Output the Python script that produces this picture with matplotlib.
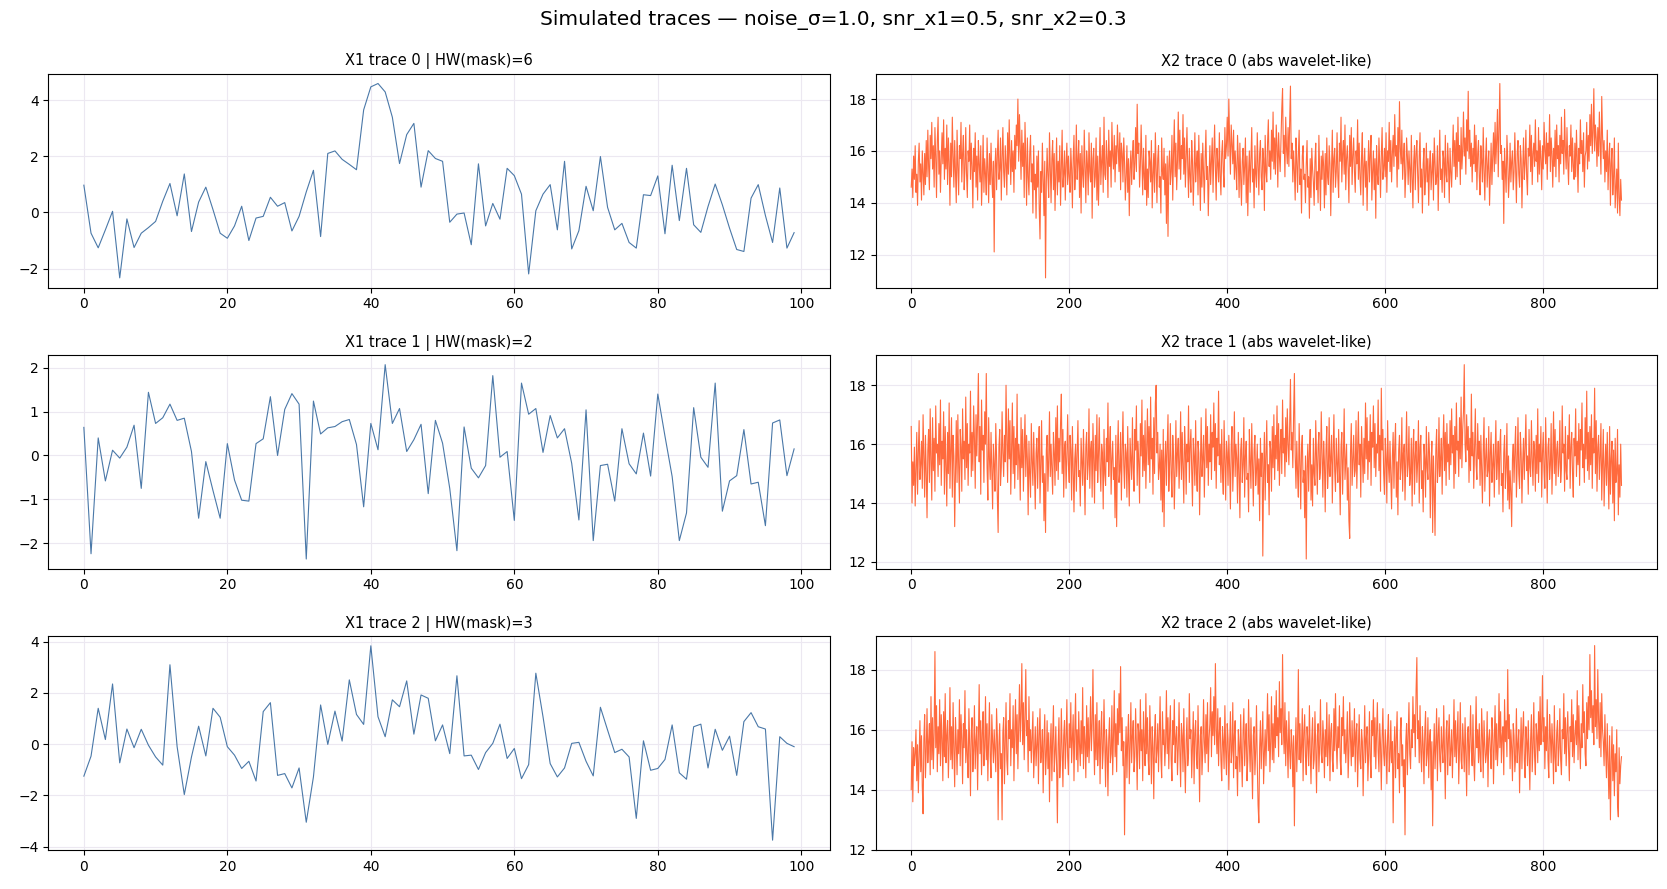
import matplotlib
matplotlib.use("Agg")
import matplotlib.pyplot as plt
import numpy as np

# ---- datos de las trazas ----
titulo = "Simulated traces — noise_σ=1.0, snr_x1=0.5, snr_x2=0.3"
hw_mask = [6, 2, 3]

x1_trace0 = [
    0.97, -0.74, -1.26, -0.62, 0.04, -2.33, -0.23, -1.25, -0.74, -0.54,
    -0.32, 0.40, 1.03, -0.12, 1.37, -0.68, 0.37, 0.90, 0.10, -0.74,
    -0.92, -0.48, 0.22, -1.00, -0.20, -0.14, 0.54, 0.22, 0.35, -0.66,
    -0.14, 0.73, 1.50, -0.86, 2.10, 2.19, 1.89, 1.71, 1.52, 3.65,
    4.47, 4.59, 4.29, 3.39, 1.74, 2.77, 3.17, 0.90, 2.20, 1.92,
    1.82, -0.35, -0.06, -0.02, -1.15, 1.73, -0.48, 0.32, -0.24, 1.57,
    1.31, 0.65, -2.19, 0.06, 0.65, 0.99, -0.62, 1.82, -1.30, -0.65,
    0.93, 0.06, 1.99, 0.18, -0.62, -0.39, -1.07, -1.27, 0.63, 0.60,
    1.30, -0.76, 1.68, -0.29, 1.57, -0.44, -0.71, 0.21, 1.01, 0.27,
    -0.56, -1.32, -1.39, 0.51, 0.99, -0.11, -1.07, 0.87, -1.27, -0.72,
]
x1_trace1 = [
    0.64, -2.24, 0.40, -0.58, 0.12, -0.06, 0.19, 0.69, -0.75, 1.44,
    0.73, 0.86, 1.17, 0.80, 0.85, 0.09, -1.43, -0.14, -0.80, -1.43,
    0.27, -0.56, -1.02, -1.04, 0.27, 0.38, 1.34, 0.00, 1.05, 1.41,
    1.17, -2.36, 1.24, 0.49, 0.63, 0.66, 0.77, 0.82, 0.25, -1.17,
    0.73, 0.13, 2.07, 0.73, 1.07, 0.09, 0.36, 0.71, -0.87, 0.80,
    0.28, -0.75, -2.17, 0.65, -0.29, -0.51, -0.23, 1.82, -0.04, 0.09,
    -1.48, 1.65, 0.94, 1.07, 0.07, 0.91, 0.40, 0.61, -0.18, -1.47,
    1.04, -1.94, -0.23, -0.20, -1.04, 0.61, -0.19, -0.42, 0.51, -0.47,
    1.40, 0.44, -0.48, -1.94, -1.31, 1.09, -0.04, -0.27, 1.65, -1.27,
    -0.58, -0.46, 0.59, -0.65, -0.61, -1.60, 0.74, 0.81, -0.46, 0.15,
]
x1_trace2 = [
    -1.25, -0.47, 1.40, 0.18, 2.35, -0.73, 0.59, -0.14, 0.58, -0.04,
    -0.50, -0.82, 3.10, -0.10, -1.97, -0.50, 0.70, -0.46, 1.40, 1.05,
    -0.10, -0.43, -0.95, -0.67, -1.44, 1.27, 1.62, -1.22, -1.15, -1.71,
    -0.93, -3.05, -1.28, 1.53, -0.01, 1.29, 0.12, 2.51, 1.16, 0.77,
    3.84, 1.07, 0.29, 1.73, 1.46, 2.47, 0.39, 1.92, 1.79, 0.13,
    0.75, -0.37, 2.67, -0.46, -0.43, -0.99, -0.33, 0.03, 0.78, -0.56,
    -0.17, -1.35, -0.80, 2.77, 1.07, -0.76, -1.28, -0.93, 0.03, 0.07,
    -0.67, -1.24, 1.44, 0.55, -0.33, -0.20, -0.50, -2.90, 0.13, -1.02,
    -0.95, -0.60, 0.75, -1.12, -1.37, 0.68, 0.78, -0.93, 0.58, -0.24,
    0.31, -1.22, 0.88, 1.23, 0.68, 0.59, -3.75, 0.29, 0.03, -0.10,
]

x2_trace0 = [
    14.6, 15.3, 14.2, 15.8, 14.9, 16.2, 14.4, 15.1, 13.9, 15.6, 16.3, 14.8, 15.5, 14.1, 16.0, 15.2, 14.3, 15.9, 14.7, 16.4,
    15.0, 16.8, 15.4, 14.5, 16.6, 15.7, 17.1, 15.3, 16.2, 14.6, 16.9, 15.8, 14.2, 16.4, 17.3, 15.1, 16.0, 14.4, 15.7, 16.7,
    15.5, 17.2, 14.9, 16.1, 15.3, 17.0, 14.7, 16.5, 15.6, 13.9, 16.3, 15.0, 17.3, 15.8, 14.6, 16.4, 15.2, 14.0, 16.8, 15.4,
    14.3, 16.2, 15.7, 17.1, 14.8, 15.9, 16.6, 14.5, 15.3, 16.9, 15.1, 14.2, 16.0, 15.6, 17.0, 14.9, 16.3, 15.4, 13.8, 16.1,
    15.2, 16.7, 14.6, 15.8, 14.1, 16.4, 15.5, 14.8, 16.2, 13.9, 15.0, 16.6, 14.4, 15.7, 15.1, 14.3, 16.5, 15.3, 14.0, 15.9,
    14.7, 16.3, 15.0, 14.2, 15.6, 12.1, 15.4, 16.1, 14.5, 15.8, 16.8, 14.9, 15.3, 16.5, 14.1, 15.7, 16.9, 15.2, 14.6, 16.2,
    15.5, 14.3, 16.7, 15.1, 17.2, 15.8, 14.7, 16.4, 15.2, 16.0, 14.4, 16.6, 15.3, 17.0, 16.2, 18.0, 15.6, 17.4, 16.1, 14.9,
    16.8, 15.4, 16.3, 14.2, 17.1, 15.7, 13.9, 16.5, 15.0, 14.3, 15.9, 16.6, 14.8, 15.5, 13.6, 16.2, 14.5, 15.1, 13.4, 15.8,
    14.6, 16.0, 13.8, 12.6, 15.2, 14.4, 16.3, 14.9, 13.5, 15.6, 11.1, 14.8, 16.1, 15.0, 14.2, 16.7, 15.3, 14.0, 15.7, 16.4,
    14.5, 15.9, 13.7, 15.2, 16.5, 14.3, 15.6, 14.8, 16.2, 13.9, 15.4, 16.8, 14.6, 15.1, 16.0, 14.1, 15.5, 16.3, 14.7, 15.8,
    15.0, 14.4, 16.1, 15.3, 13.8, 15.7, 16.6, 14.5, 15.2, 17.0, 14.9, 15.6, 16.4, 14.2, 15.9, 13.6, 16.2, 15.1, 14.6, 16.8,
    15.4, 14.0, 16.0, 15.5, 14.3, 16.7, 15.2, 14.8, 16.3, 13.4, 15.7, 16.1, 14.6, 15.0, 16.5, 14.1, 15.8, 13.9, 15.3, 16.9,
    14.7, 15.6, 16.2, 14.4, 17.3, 15.1, 14.9, 16.4, 15.7, 14.2, 16.8, 15.4, 16.0, 14.6, 17.1, 15.8, 15.3, 16.6, 14.8, 16.2,
    15.5, 17.0, 16.1, 15.2, 16.7, 14.5, 16.3, 15.9, 14.8, 16.5, 15.6, 14.1, 15.0, 16.2, 14.4, 15.7, 13.5, 15.3, 16.0, 14.7,
    15.8, 16.4, 14.9, 15.5, 16.9, 15.2, 17.8, 15.9, 16.3, 14.6, 15.4, 17.0, 15.7, 14.3, 16.1, 15.0, 14.5, 16.6, 13.9, 15.3,
    14.2, 16.0, 15.6, 14.8, 16.4, 13.8, 15.1, 15.9, 14.4, 16.7, 15.3, 14.0, 15.7, 16.2, 14.6, 15.0, 13.6, 16.5, 15.2, 14.9,
    16.1, 14.3, 15.5, 13.2, 15.8, 12.7, 15.4, 16.0, 14.7, 15.2, 16.6, 14.1, 15.9, 17.2, 15.0, 16.3, 14.5, 15.6, 17.5, 15.3,
    16.8, 14.9, 16.2, 15.7, 17.4, 15.1, 16.5, 14.6, 15.8, 16.9, 15.4, 14.2, 16.1, 15.0, 14.4, 16.4, 15.6, 13.9, 15.2, 16.7,
    14.8, 15.5, 16.0, 14.3, 16.6, 15.1, 13.7, 15.9, 14.6, 16.3, 15.2, 14.0, 15.7, 16.8, 14.9, 15.4, 13.5, 15.0, 16.2, 14.7,
    15.6, 16.5, 14.4, 15.8, 17.0, 15.3, 14.1, 16.1, 15.5, 14.8, 16.7, 15.0, 14.3, 15.9, 16.4, 15.2, 14.6, 16.9, 15.7, 16.2,
    17.3, 15.8, 18.0, 16.4, 15.1, 17.0, 16.2, 15.5, 16.8, 14.9, 16.0, 15.3, 14.5, 16.6, 15.7, 14.2, 16.3, 15.0, 13.9, 15.6,
    16.1, 14.7, 15.4, 16.5, 14.0, 15.8, 13.5, 15.2, 16.0, 14.4, 15.6, 16.9, 14.8, 15.3, 13.8, 16.2, 15.1, 14.6, 16.7, 15.5,
    14.3, 15.9, 16.4, 15.0, 14.5, 16.1, 15.7, 13.7, 16.6, 15.2, 14.8, 16.3, 17.2, 15.4, 16.0, 14.9, 16.8, 15.6, 17.5, 15.3,
    16.5, 15.1, 17.0, 16.2, 14.6, 16.7, 15.8, 15.2, 16.4, 17.6, 18.4, 15.9, 16.6, 15.0, 17.3, 16.1, 15.5, 16.9, 15.4, 17.1,
    18.5, 15.7, 16.3, 14.8, 16.0, 15.2, 14.1, 16.5, 15.6, 14.4, 15.9, 16.8, 14.7, 15.3, 13.6, 15.8, 16.2, 14.9, 15.1, 14.0,
    15.5, 16.4, 14.6, 15.0, 13.4, 15.7, 14.2, 16.1, 15.3, 14.8, 13.9, 15.6, 16.3, 14.5, 15.2, 14.0, 16.6, 15.1, 13.7, 15.8,
    14.9, 16.0, 15.4, 13.8, 15.9, 14.3, 16.5, 15.0, 14.7, 16.2, 15.5, 13.5, 15.3, 16.8, 14.4, 15.7, 16.1, 14.6, 15.2, 16.7,
    15.0, 14.2, 16.3, 15.6, 17.3, 14.8, 15.9, 16.4, 15.1, 17.0, 14.5, 15.7, 16.2, 15.3, 14.0, 16.6, 15.4, 16.9, 14.7, 15.8,
    16.5, 15.2, 14.4, 16.0, 15.5, 17.2, 14.9, 16.3, 15.0, 14.3, 15.8, 16.7, 13.9, 15.4, 16.1, 14.6, 15.6, 13.7, 15.3, 16.4,
    14.8, 15.9, 16.6, 14.1, 15.2, 16.0, 14.5, 15.7, 13.4, 16.2, 15.1, 14.7, 16.5, 15.5, 14.2, 15.8, 16.9, 14.9, 15.3, 16.1,
    15.0, 16.7, 14.4, 16.0, 15.6, 17.1, 15.2, 16.4, 14.8, 15.9, 16.6, 15.4, 17.4, 15.8, 16.2, 14.6, 16.9, 15.3, 17.9, 16.1,
    15.5, 16.8, 14.9, 15.7, 16.3, 14.2, 15.1, 16.5, 15.8, 14.7, 16.0, 15.3, 14.4, 16.6, 15.0, 13.8, 15.6, 16.2, 14.5, 15.9,
    16.4, 15.1, 14.0, 15.8, 16.7, 14.6, 15.3, 13.6, 15.5, 16.1, 14.3, 15.0, 16.3, 14.8, 15.7, 13.9, 15.4, 16.0, 14.5, 15.2,
    15.9, 14.1, 16.5, 15.6, 14.7, 15.0, 16.2, 13.7, 15.4, 16.8, 14.9, 15.3, 14.4, 16.0, 15.7, 14.2, 16.6, 15.1, 14.8, 16.3,
    15.5, 14.0, 16.1, 15.2, 14.6, 15.8, 17.0, 15.4, 16.4, 14.9, 16.7, 15.0, 17.3, 15.6, 16.2, 14.7, 16.9, 15.3, 16.0, 17.5,
    15.8, 16.5, 15.1, 17.2, 16.0, 18.3, 15.7, 16.8, 15.4, 16.3, 14.8, 16.1, 15.5, 17.0, 15.2, 16.6, 14.5, 15.9, 16.4, 15.0,
    14.3, 16.2, 15.6, 14.8, 16.9, 15.3, 14.1, 15.7, 16.5, 14.6, 15.4, 16.0, 13.9, 15.1, 16.3, 14.7, 15.8, 16.7, 15.2, 17.1,
    15.5, 16.4, 17.6, 15.0, 16.8, 18.6, 15.9, 16.2, 14.9, 15.6, 13.2, 16.1, 15.3, 14.4, 16.6, 15.7, 14.2, 15.0, 16.3, 14.8,
    15.6, 16.0, 14.5, 15.2, 16.7, 15.4, 14.0, 15.9, 16.4, 15.1, 14.6, 16.2, 15.7, 13.8, 15.3, 16.5, 14.9, 15.5, 16.8, 15.0,
    14.3, 16.1, 15.8, 17.0, 15.2, 16.6, 14.7, 15.9, 16.3, 15.4, 17.2, 15.6, 16.0, 14.8, 16.9, 15.1, 16.4, 15.7, 14.5, 16.2,
    15.3, 17.1, 16.0, 15.5, 16.7, 14.9, 16.3, 15.8, 17.4, 15.2, 16.5, 15.9, 14.6, 16.1, 15.4, 16.8, 15.0, 17.0, 15.7, 16.2,
    14.8, 16.6, 15.5, 17.3, 15.9, 16.4, 15.1, 17.6, 16.0, 15.3, 16.9, 15.6, 14.7, 16.2, 15.8, 17.0, 15.2, 16.5, 15.4, 14.9,
    16.3, 15.0, 16.8, 15.7, 14.4, 16.1, 15.5, 17.2, 15.9, 16.4, 15.2, 16.7, 14.6, 15.8, 16.0, 17.1, 15.3, 16.6, 15.6, 17.4,
    16.2, 17.8, 15.9, 16.7, 18.4, 16.0, 17.0, 16.5, 15.4, 16.9, 15.8, 17.5, 16.3, 15.1, 18.1, 16.6, 15.7, 16.4, 14.8, 16.0,
    15.2, 16.8, 14.5, 15.7, 16.3, 13.9, 15.5, 16.1, 14.3, 15.0, 16.5, 13.8, 14.6, 15.3, 13.6, 16.3, 14.2, 13.5, 14.9, 14.1,
]
x2_trace1 = [
    16.6, 14.0, 15.4, 14.6, 15.9, 13.9, 15.2, 16.4, 14.3, 15.7, 16.8, 14.8, 15.3, 16.1, 14.5, 17.0, 15.6, 14.2, 16.3, 15.0,
    13.5, 15.8, 16.5, 14.7, 17.2, 15.4, 14.1, 16.9, 15.1, 16.2, 14.4, 17.3, 15.7, 16.0, 14.9, 16.7, 15.3, 17.5, 14.6, 16.1,
    15.5, 17.1, 14.3, 16.6, 15.2, 13.9, 16.4, 15.0, 17.4, 14.5, 15.8, 16.9, 14.2, 16.3, 15.6, 13.2, 15.1, 16.8, 14.7, 17.0,
    15.3, 14.0, 16.5, 15.9, 14.4, 17.2, 15.5, 16.1, 14.8, 17.6, 15.2, 16.7, 14.6, 16.0, 15.7, 17.8, 14.9, 16.4, 15.1, 17.3,
    16.2, 14.5, 17.0, 15.6, 16.8, 18.4, 15.4, 16.6, 14.3, 17.5, 15.8, 16.3, 14.7, 17.1, 16.0, 18.4, 15.2, 14.1, 16.9, 15.5,
    14.8, 16.4, 15.1, 13.8, 16.0, 15.3, 14.4, 16.7, 15.6, 14.2, 13.0, 15.9, 16.5, 14.6, 15.2, 17.1, 15.7, 14.9, 16.3, 15.4,
    18.0, 16.1, 14.7, 17.2, 15.5, 16.8, 14.3, 15.9, 17.4, 15.0, 16.6, 14.5, 16.2, 15.3, 17.7, 14.8, 16.0, 15.6, 14.1, 16.9,
    15.2, 16.5, 14.4, 15.8, 17.0, 14.9, 16.3, 15.5, 13.6, 16.1, 15.0, 14.2, 16.7, 15.4, 14.6, 16.4, 15.1, 13.8, 15.7, 16.2,
    14.5, 15.9, 16.6, 14.0, 15.3, 16.8, 14.7, 15.6, 13.4, 15.0, 13.0, 15.8, 16.3, 14.4, 15.5, 17.1, 14.9, 16.0, 15.2, 14.3,
    16.4, 15.7, 14.6, 16.9, 15.1, 17.3, 14.8, 16.2, 15.4, 16.7, 17.7, 15.0, 16.5, 14.2, 15.9, 16.1, 14.5, 15.6, 17.0, 15.3,
    14.7, 16.3, 15.8, 14.1, 16.6, 15.2, 13.7, 15.5, 16.0, 14.4, 15.7, 16.8, 14.9, 15.1, 13.9, 16.2, 15.4, 14.6, 16.5, 15.0,
    13.6, 15.9, 16.4, 14.8, 15.3, 17.2, 14.5, 15.8, 16.1, 14.2, 16.7, 15.5, 14.0, 16.3, 15.1, 17.0, 14.7, 15.6, 16.9, 15.2,
    14.4, 16.0, 15.7, 13.8, 16.5, 15.0, 14.6, 16.2, 15.4, 17.4, 14.9, 15.9, 16.6, 14.3, 15.5, 16.1, 14.8, 15.2, 13.5, 16.3,
    13.2, 15.6, 16.8, 14.7, 15.1, 16.4, 14.1, 15.8, 17.1, 15.3, 14.5, 16.0, 15.7, 14.2, 16.6, 15.0, 13.9, 16.2, 15.5, 14.8,
    16.9, 15.2, 14.4, 16.5, 15.8, 17.3, 14.6, 16.1, 15.4, 14.0, 16.7, 15.6, 17.5, 14.9, 16.3, 15.1, 16.8, 14.5, 15.9, 17.2,
    15.3, 16.6, 14.7, 17.6, 15.5, 16.2, 14.3, 16.9, 15.0, 17.4, 18.0, 15.7, 16.4, 14.8, 15.2, 16.0, 14.1, 15.8, 13.7, 16.5,
    13.2, 15.4, 16.1, 14.6, 15.9, 17.0, 14.4, 15.3, 16.7, 15.0, 14.2, 16.3, 15.6, 13.8, 15.1, 16.8, 14.9, 15.7, 16.2, 14.5,
    15.5, 17.1, 14.8, 16.4, 15.2, 14.0, 16.6, 15.8, 14.3, 16.0, 15.4, 17.3, 14.7, 15.9, 16.5, 15.1, 13.9, 16.2, 15.6, 14.6,
    16.8, 15.0, 14.4, 16.1, 15.7, 13.6, 15.3, 16.9, 14.9, 15.5, 16.3, 14.2, 15.8, 17.2, 15.2, 16.6, 14.6, 16.0, 15.4, 17.0,
    14.8, 16.4, 15.9, 17.4, 15.1, 16.7, 14.5, 16.2, 15.6, 17.8, 15.3, 16.0, 14.7, 16.5, 15.0, 14.3, 16.8, 15.5, 14.1, 16.1,
    15.7, 14.6, 16.3, 15.2, 13.8, 15.9, 16.6, 14.4, 15.4, 17.1, 14.9, 16.0, 15.5, 14.0, 16.4, 15.1, 13.5, 15.8, 16.2, 14.7,
    15.3, 16.9, 14.2, 15.6, 16.1, 14.8, 15.0, 13.7, 16.5, 15.4, 14.5, 16.7, 15.2, 13.9, 15.8, 16.3, 14.6, 15.1, 16.0, 14.3,
    15.5, 13.4, 16.2, 14.9, 15.7, 12.2, 15.0, 16.4, 14.1, 15.6, 16.8, 14.7, 15.3, 13.6, 16.1, 15.8, 14.4, 16.6, 15.2, 17.0,
    14.8, 16.3, 15.5, 17.3, 15.1, 16.7, 14.6, 15.9, 16.5, 15.0, 17.5, 15.7, 16.2, 14.9, 16.9, 15.4, 17.2, 16.0, 15.3, 16.6,
    18.2, 15.8, 16.4, 15.2, 17.0, 18.4, 15.6, 14.5, 16.1, 15.0, 14.2, 16.7, 15.4, 13.8, 15.9, 16.3, 14.7, 15.1, 13.5, 15.6,
    12.1, 15.2, 16.0, 14.4, 15.7, 16.5, 14.1, 15.3, 13.9, 16.2, 15.0, 14.6, 16.8, 15.5, 14.3, 15.9, 16.4, 14.8, 15.1, 17.1,
    15.6, 14.2, 16.1, 15.4, 13.7, 15.8, 16.6, 14.5, 15.2, 16.9, 14.9, 15.5, 16.3, 14.0, 15.7, 17.0, 15.1, 14.4, 16.2, 15.3,
    14.7, 16.5, 15.0, 13.6, 15.9, 16.4, 14.3, 15.6, 17.2, 14.8, 15.4, 16.0, 14.1, 15.2, 13.4, 12.8, 15.7, 16.7, 14.6, 15.5,
    16.3, 14.9, 15.1, 16.8, 14.5, 15.8, 17.1, 15.3, 16.0, 14.2, 16.6, 15.6, 14.7, 16.2, 15.0, 17.4, 15.5, 16.9, 14.8, 16.1,
    15.4, 17.0, 14.6, 16.4, 15.9, 17.3, 15.2, 16.7, 14.9, 16.0, 15.7, 17.5, 15.1, 16.3, 14.4, 17.9, 15.8, 16.5, 15.0, 14.3,
    16.2, 15.5, 14.0, 16.8, 15.3, 14.7, 16.1, 15.0, 13.8, 15.6, 16.4, 14.5, 15.9, 16.7, 14.2, 15.4, 13.6, 15.8, 16.3, 14.8,
    15.2, 16.9, 14.4, 15.7, 16.0, 14.1, 15.5, 17.1, 14.9, 15.3, 16.6, 14.6, 15.0, 16.2, 13.9, 15.8, 16.5, 14.3, 15.6, 16.1,
    14.7, 15.4, 16.8, 14.0, 15.9, 16.3, 14.5, 15.1, 13.7, 16.0, 15.5, 14.2, 16.6, 15.2, 14.8, 16.4, 15.7, 13.5, 15.3, 16.1,
    13.0, 15.6, 14.4, 12.9, 15.8, 16.5, 14.7, 15.2, 16.9, 14.9, 15.5, 16.2, 14.3, 15.9, 17.0, 15.1, 16.4, 14.6, 16.7, 15.4,
    16.0, 14.8, 16.8, 15.3, 17.2, 15.7, 16.3, 14.5, 16.6, 15.0, 17.4, 15.8, 16.1, 14.9, 16.9, 15.5, 17.6, 15.2, 16.5, 17.1,
    18.7, 16.0, 15.4, 17.0, 15.8, 16.6, 14.7, 16.2, 15.1, 17.7, 15.6, 16.4, 14.5, 15.9, 17.2, 15.3, 14.8, 16.7, 15.5, 16.1,
    14.6, 16.3, 15.2, 14.0, 15.8, 16.9, 14.4, 15.5, 16.2, 14.9, 15.1, 16.6, 13.9, 15.7, 16.4, 14.7, 15.3, 16.0, 14.2, 15.6,
    16.8, 14.8, 15.4, 16.1, 14.3, 15.9, 16.5, 14.6, 15.0, 13.7, 15.7, 16.3, 14.5, 15.2, 16.7, 14.1, 15.6, 13.8, 15.1, 14.4,
    13.2, 15.5, 16.0, 14.7, 15.8, 16.6, 14.2, 15.3, 16.9, 15.0, 14.5, 16.4, 15.7, 14.0, 15.4, 16.2, 14.8, 15.9, 17.0, 15.1,
    15.6, 14.3, 16.5, 15.2, 14.9, 16.8, 15.5, 14.6, 16.1, 15.8, 14.4, 16.3, 15.0, 17.2, 14.7, 16.0, 15.4, 16.6, 14.2, 15.7,
    16.4, 15.1, 14.5, 16.9, 15.6, 14.0, 15.9, 16.2, 14.8, 15.3, 16.7, 14.3, 15.5, 17.1, 15.0, 16.5, 14.6, 15.8, 16.1, 14.9,
    15.4, 16.8, 14.7, 15.2, 17.3, 15.7, 16.0, 14.4, 16.6, 15.1, 14.8, 16.3, 15.5, 17.0, 14.5, 15.9, 16.4, 15.0, 14.2, 16.2,
    15.6, 17.2, 14.9, 16.1, 15.3, 16.7, 14.6, 16.5, 15.8, 17.4, 15.2, 16.0, 14.7, 16.9, 15.5, 17.8, 15.1, 16.4, 14.8, 16.6,
    15.3, 17.0, 14.5, 16.2, 15.7, 17.9, 15.0, 16.8, 14.4, 15.9, 16.3, 14.8, 15.6, 16.7, 14.1, 15.4, 16.5, 13.9, 15.2, 16.0,
    14.6, 16.4, 15.1, 13.8, 16.6, 14.3, 15.5, 16.1, 14.0, 15.8, 13.4, 16.2, 14.7, 15.0, 16.5, 13.6, 15.3, 14.2, 16.0, 14.6,
]
x2_trace2 = [
    14.0, 15.6, 13.6, 15.4, 14.8, 15.2, 16.0, 14.3, 15.5, 13.9, 15.1, 16.3, 14.6, 15.8, 14.1, 13.2, 15.7, 16.5, 14.4, 15.3,
    16.7, 14.9, 15.6, 16.2, 14.5, 17.1, 15.0, 16.4, 14.7, 15.9, 18.6, 15.4, 16.8, 14.6, 16.1, 15.2, 17.0, 14.8, 16.5, 15.7,
    14.3, 16.6, 15.1, 17.2, 14.9, 15.8, 16.3, 14.4, 15.5, 17.4, 15.0, 16.1, 14.7, 16.9, 15.3, 14.1, 16.4, 15.6, 14.5, 16.0,
    15.2, 17.0, 14.8, 16.5, 15.7, 14.2, 16.2, 15.4, 17.3, 14.9, 16.0, 15.1, 14.4, 16.7, 15.5, 13.8, 15.9, 16.4, 14.6, 15.3,
    16.8, 14.7, 15.6, 16.1, 14.0, 15.8, 17.5, 15.2, 16.3, 14.5, 15.9, 16.6, 14.8, 15.4, 17.1, 15.0, 16.2, 14.3, 15.7, 16.9,
    15.1, 14.4, 16.5, 15.6, 14.9, 16.0, 15.3, 14.6, 16.7, 15.8, 13.0, 15.5, 16.2, 14.7, 15.2, 13.0, 15.9, 16.4, 14.2, 15.6,
    16.9, 15.0, 14.5, 16.3, 15.7, 17.2, 14.8, 16.0, 15.4, 16.8, 14.3, 15.9, 17.0, 15.2, 16.5, 14.7, 16.2, 17.5, 15.6, 16.6,
    18.2, 15.5, 16.9, 15.0, 16.4, 18.0, 15.8, 16.3, 14.6, 17.1, 15.3, 16.0, 14.9, 15.7, 16.6, 14.4, 15.2, 16.1, 14.8, 15.5,
    16.4, 14.2, 15.8, 16.7, 14.9, 15.3, 16.0, 13.9, 15.6, 16.5, 14.5, 15.1, 16.3, 14.7, 15.9, 13.6, 15.4, 16.2, 14.3, 15.7,
    16.8, 14.6, 15.2, 16.1, 14.8, 12.9, 15.5, 16.4, 14.4, 15.0, 16.7, 15.3, 14.1, 15.8, 16.3, 14.7, 15.6, 17.0, 15.1, 14.5,
    16.2, 15.4, 16.9, 14.9, 15.7, 16.5, 14.3, 15.9, 17.2, 15.0, 16.0, 14.6, 16.6, 15.5, 14.8, 16.3, 15.2, 17.4, 14.7, 16.1,
    15.6, 14.4, 16.8, 15.1, 16.4, 14.9, 15.8, 17.1, 15.3, 16.2, 18.0, 15.7, 14.5, 16.5, 15.0, 16.9, 14.8, 15.5, 16.3, 14.2,
    15.9, 16.6, 14.7, 15.3, 17.0, 15.6, 14.1, 16.0, 15.4, 13.8, 15.7, 16.4, 14.9, 15.2, 16.8, 14.5, 15.8, 17.3, 15.1, 16.2,
    14.6, 16.7, 15.5, 17.2, 15.9, 18.1, 15.3, 16.4, 14.8, 15.6, 12.5, 15.0, 16.1, 14.4, 15.7, 16.5, 14.2, 15.4, 16.9, 14.9,
    15.8, 16.3, 14.6, 15.1, 16.7, 15.5, 14.0, 16.2, 15.9, 14.7, 17.0, 15.3, 16.0, 14.3, 16.6, 15.6, 14.8, 17.2, 15.2, 16.4,
    15.0, 14.5, 16.8, 15.7, 14.2, 16.1, 15.4, 13.7, 15.9, 16.5, 14.9, 15.3, 16.2, 14.6, 15.8, 17.1, 15.1, 14.4, 16.6, 15.5,
    16.0, 14.8, 15.6, 17.3, 15.2, 16.4, 14.7, 15.9, 16.8, 15.0, 14.3, 16.3, 15.5, 17.0, 14.9, 15.7, 16.1, 14.5, 15.4, 16.9,
    15.3, 14.1, 16.2, 15.8, 14.6, 16.7, 15.1, 13.9, 15.6, 16.4, 14.8, 15.2, 17.2, 15.7, 16.0, 14.4, 15.5, 16.6, 14.2, 15.9,
    16.3, 15.0, 14.7, 16.8, 15.4, 13.6, 15.8, 16.1, 14.5, 15.3, 17.0, 15.6, 14.9, 16.5, 15.2, 16.9, 14.6, 15.7, 16.2, 17.4,
    15.1, 16.6, 15.8, 17.1, 15.5, 18.2, 16.0, 15.2, 16.7, 14.8, 15.9, 16.4, 15.0, 14.3, 16.1, 15.6, 14.7, 16.8, 15.3, 14.5,
    16.2, 15.7, 14.0, 15.5, 16.6, 14.9, 15.3, 16.9, 14.4, 15.8, 16.3, 14.7, 15.1, 13.8, 16.0, 15.4, 14.6, 16.5, 15.2, 14.1,
    15.9, 16.7, 14.8, 15.6, 16.2, 14.3, 15.0, 17.0, 15.5, 14.6, 16.4, 15.1, 13.7, 15.8, 16.1, 14.5, 15.3, 16.8, 14.9, 13.5,
    12.9, 15.4, 16.3, 14.7, 15.7, 16.6, 14.2, 15.2, 16.0, 14.8, 15.9, 17.2, 15.3, 16.5, 14.6, 15.6, 17.1, 15.0, 16.2, 14.9,
    16.8, 15.4, 17.3, 15.8, 16.4, 15.1, 17.6, 15.9, 16.7, 15.5, 18.5, 16.1, 15.2, 16.9, 14.8, 16.3, 15.6, 14.4, 16.6, 15.3,
    14.7, 16.0, 15.5, 14.1, 15.8, 12.8, 15.2, 16.4, 14.6, 15.7, 18.0, 15.0, 16.2, 14.9, 15.4, 16.7, 14.3, 15.9, 16.5, 15.1,
    14.5, 16.1, 15.6, 14.8, 16.8, 15.3, 14.2, 15.7, 16.4, 14.7, 15.0, 16.6, 15.4, 13.9, 15.8, 16.2, 14.6, 15.5, 17.0, 15.2,
    14.9, 16.3, 15.7, 14.4, 16.0, 15.1, 16.9, 14.8, 15.5, 16.5, 14.3, 15.9, 16.2, 15.0, 14.6, 16.7, 15.3, 17.2, 15.6, 14.7,
    16.1, 15.4, 16.8, 15.0, 14.5, 16.4, 15.8, 17.1, 15.2, 16.0, 14.9, 15.6, 16.6, 14.4, 15.3, 16.9, 15.7, 14.8, 16.3, 15.1,
    15.5, 16.7, 14.6, 15.9, 16.2, 14.1, 15.4, 16.5, 15.0, 14.7, 16.0, 15.6, 13.8, 15.3, 16.8, 14.9, 15.7, 16.1, 14.3, 15.2,
    16.6, 15.0, 14.4, 16.3, 15.8, 17.0, 15.1, 16.4, 14.7, 15.9, 16.9, 15.3, 14.6, 16.2, 15.5, 14.0, 15.7, 16.7, 15.2, 14.8,
    16.0, 15.4, 14.2, 15.8, 16.5, 14.6, 15.1, 16.3, 14.9, 15.6, 12.9, 15.3, 16.1, 14.4, 15.7, 16.6, 14.7, 15.2, 13.9, 15.9,
    16.4, 14.8, 15.5, 14.1, 15.0, 12.5, 15.6, 16.2, 14.5, 15.8, 16.9, 15.2, 14.7, 16.0, 15.4, 17.1, 15.9, 16.5, 15.1, 17.3,
    18.4, 15.7, 16.3, 14.9, 16.8, 15.3, 14.6, 16.1, 15.5, 14.2, 15.9, 16.6, 14.8, 15.2, 16.4, 14.4, 15.7, 16.0, 14.0, 15.6,
    12.8, 15.1, 16.2, 14.7, 15.5, 16.7, 14.3, 15.8, 16.4, 15.0, 14.6, 16.1, 15.4, 14.9, 16.8, 15.2, 13.7, 15.9, 16.3, 14.5,
    15.7, 16.5, 14.8, 15.3, 16.0, 14.4, 15.6, 17.0, 15.1, 16.3, 14.9, 15.8, 16.6, 14.2, 15.4, 16.9, 15.0, 14.7, 16.2, 15.5,
    14.6, 16.4, 15.2, 13.8, 15.9, 16.1, 14.5, 15.7, 16.8, 15.3, 14.8, 16.5, 15.0, 14.3, 15.6, 17.1, 15.4, 16.0, 14.9, 16.2,
    15.1, 14.6, 16.7, 15.8, 14.4, 16.3, 15.5, 14.9, 15.2, 16.6, 14.1, 15.7, 16.0, 15.3, 14.7, 16.4, 15.9, 14.2, 15.6, 16.8,
    15.0, 16.2, 14.8, 15.5, 17.2, 15.4, 16.6, 14.9, 15.8, 16.1, 14.5, 17.0, 15.6, 16.3, 15.1, 18.0, 15.7, 16.5, 14.7, 16.0,
    15.4, 14.3, 16.2, 15.8, 14.6, 15.1, 16.7, 14.9, 15.5, 16.0, 13.9, 15.3, 16.4, 14.7, 15.9, 16.6, 15.0, 14.4, 16.1, 15.6,
    14.8, 16.3, 15.2, 14.0, 15.7, 16.5, 14.6, 15.4, 16.9, 15.1, 14.5, 16.2, 15.8, 14.9, 16.6, 15.3, 17.1, 15.5, 16.0, 17.8,
    15.6, 16.4, 14.7, 16.1, 15.3, 17.0, 15.0, 14.4, 16.5, 15.8, 14.9, 16.2, 15.5, 14.2, 16.8, 15.1, 14.6, 15.9, 16.3, 14.8,
    15.4, 16.7, 15.0, 14.5, 16.0, 15.7, 17.2, 15.2, 16.4, 14.8, 15.9, 16.6, 15.3, 14.3, 16.1, 15.6, 17.0, 15.1, 16.5, 14.9,
    15.8, 16.3, 15.5, 17.3, 15.0, 16.8, 15.6, 14.7, 16.2, 15.4, 17.5, 15.9, 16.6, 15.2, 14.8, 16.9, 15.7, 17.1, 16.0, 18.5,
    16.4, 17.3, 15.9, 16.8, 15.5, 18.8, 16.1, 17.0, 15.7, 18.0, 16.3, 15.4, 16.9, 15.1, 17.2, 16.0, 15.6, 14.8, 16.5, 15.3,
    14.4, 16.2, 15.0, 13.7, 15.8, 13.0, 14.9, 16.1, 14.3, 15.5, 13.8, 15.2, 14.6, 16.0, 13.5, 13.1, 15.4, 14.2, 14.8, 15.1,
]

x1_trazas = [x1_trace0, x1_trace1, x1_trace2]
x2_trazas = [x2_trace0, x2_trace1, x2_trace2]

color_x1 = '#4a78a8'
color_x2 = '#ff6a3d'
color_grid = '#ece8f1'

fig, axes = plt.subplots(3, 2, figsize=(16.67, 8.89), dpi=100)

for i in range(3):
    # columna izquierda: X1
    ax = axes[i, 0]
    ax.plot(np.arange(len(x1_trazas[i])), x1_trazas[i], color=color_x1, linewidth=0.8)
    ax.set_title(f"X1 trace {i} | HW(mask)={hw_mask[i]}", fontsize=10.5)
    ax.grid(True, color=color_grid, linewidth=0.8)

    # columna derecha: X2
    ax = axes[i, 1]
    ax.plot(np.arange(len(x2_trazas[i])), x2_trazas[i], color=color_x2, linewidth=0.8)
    ax.set_title(f"X2 trace {i} (abs wavelet-like)", fontsize=10.5)
    ax.set_yticks([12, 14, 16, 18])
    ax.grid(True, color=color_grid, linewidth=0.8)

fig.suptitle(titulo, fontsize=14.5, y=0.977, va='center')
plt.subplots_adjust(left=0.029, right=0.994, top=0.917, bottom=0.044, wspace=0.059, hspace=0.315)

plt.savefig('out.png', dpi=100)
plt.close(fig)
